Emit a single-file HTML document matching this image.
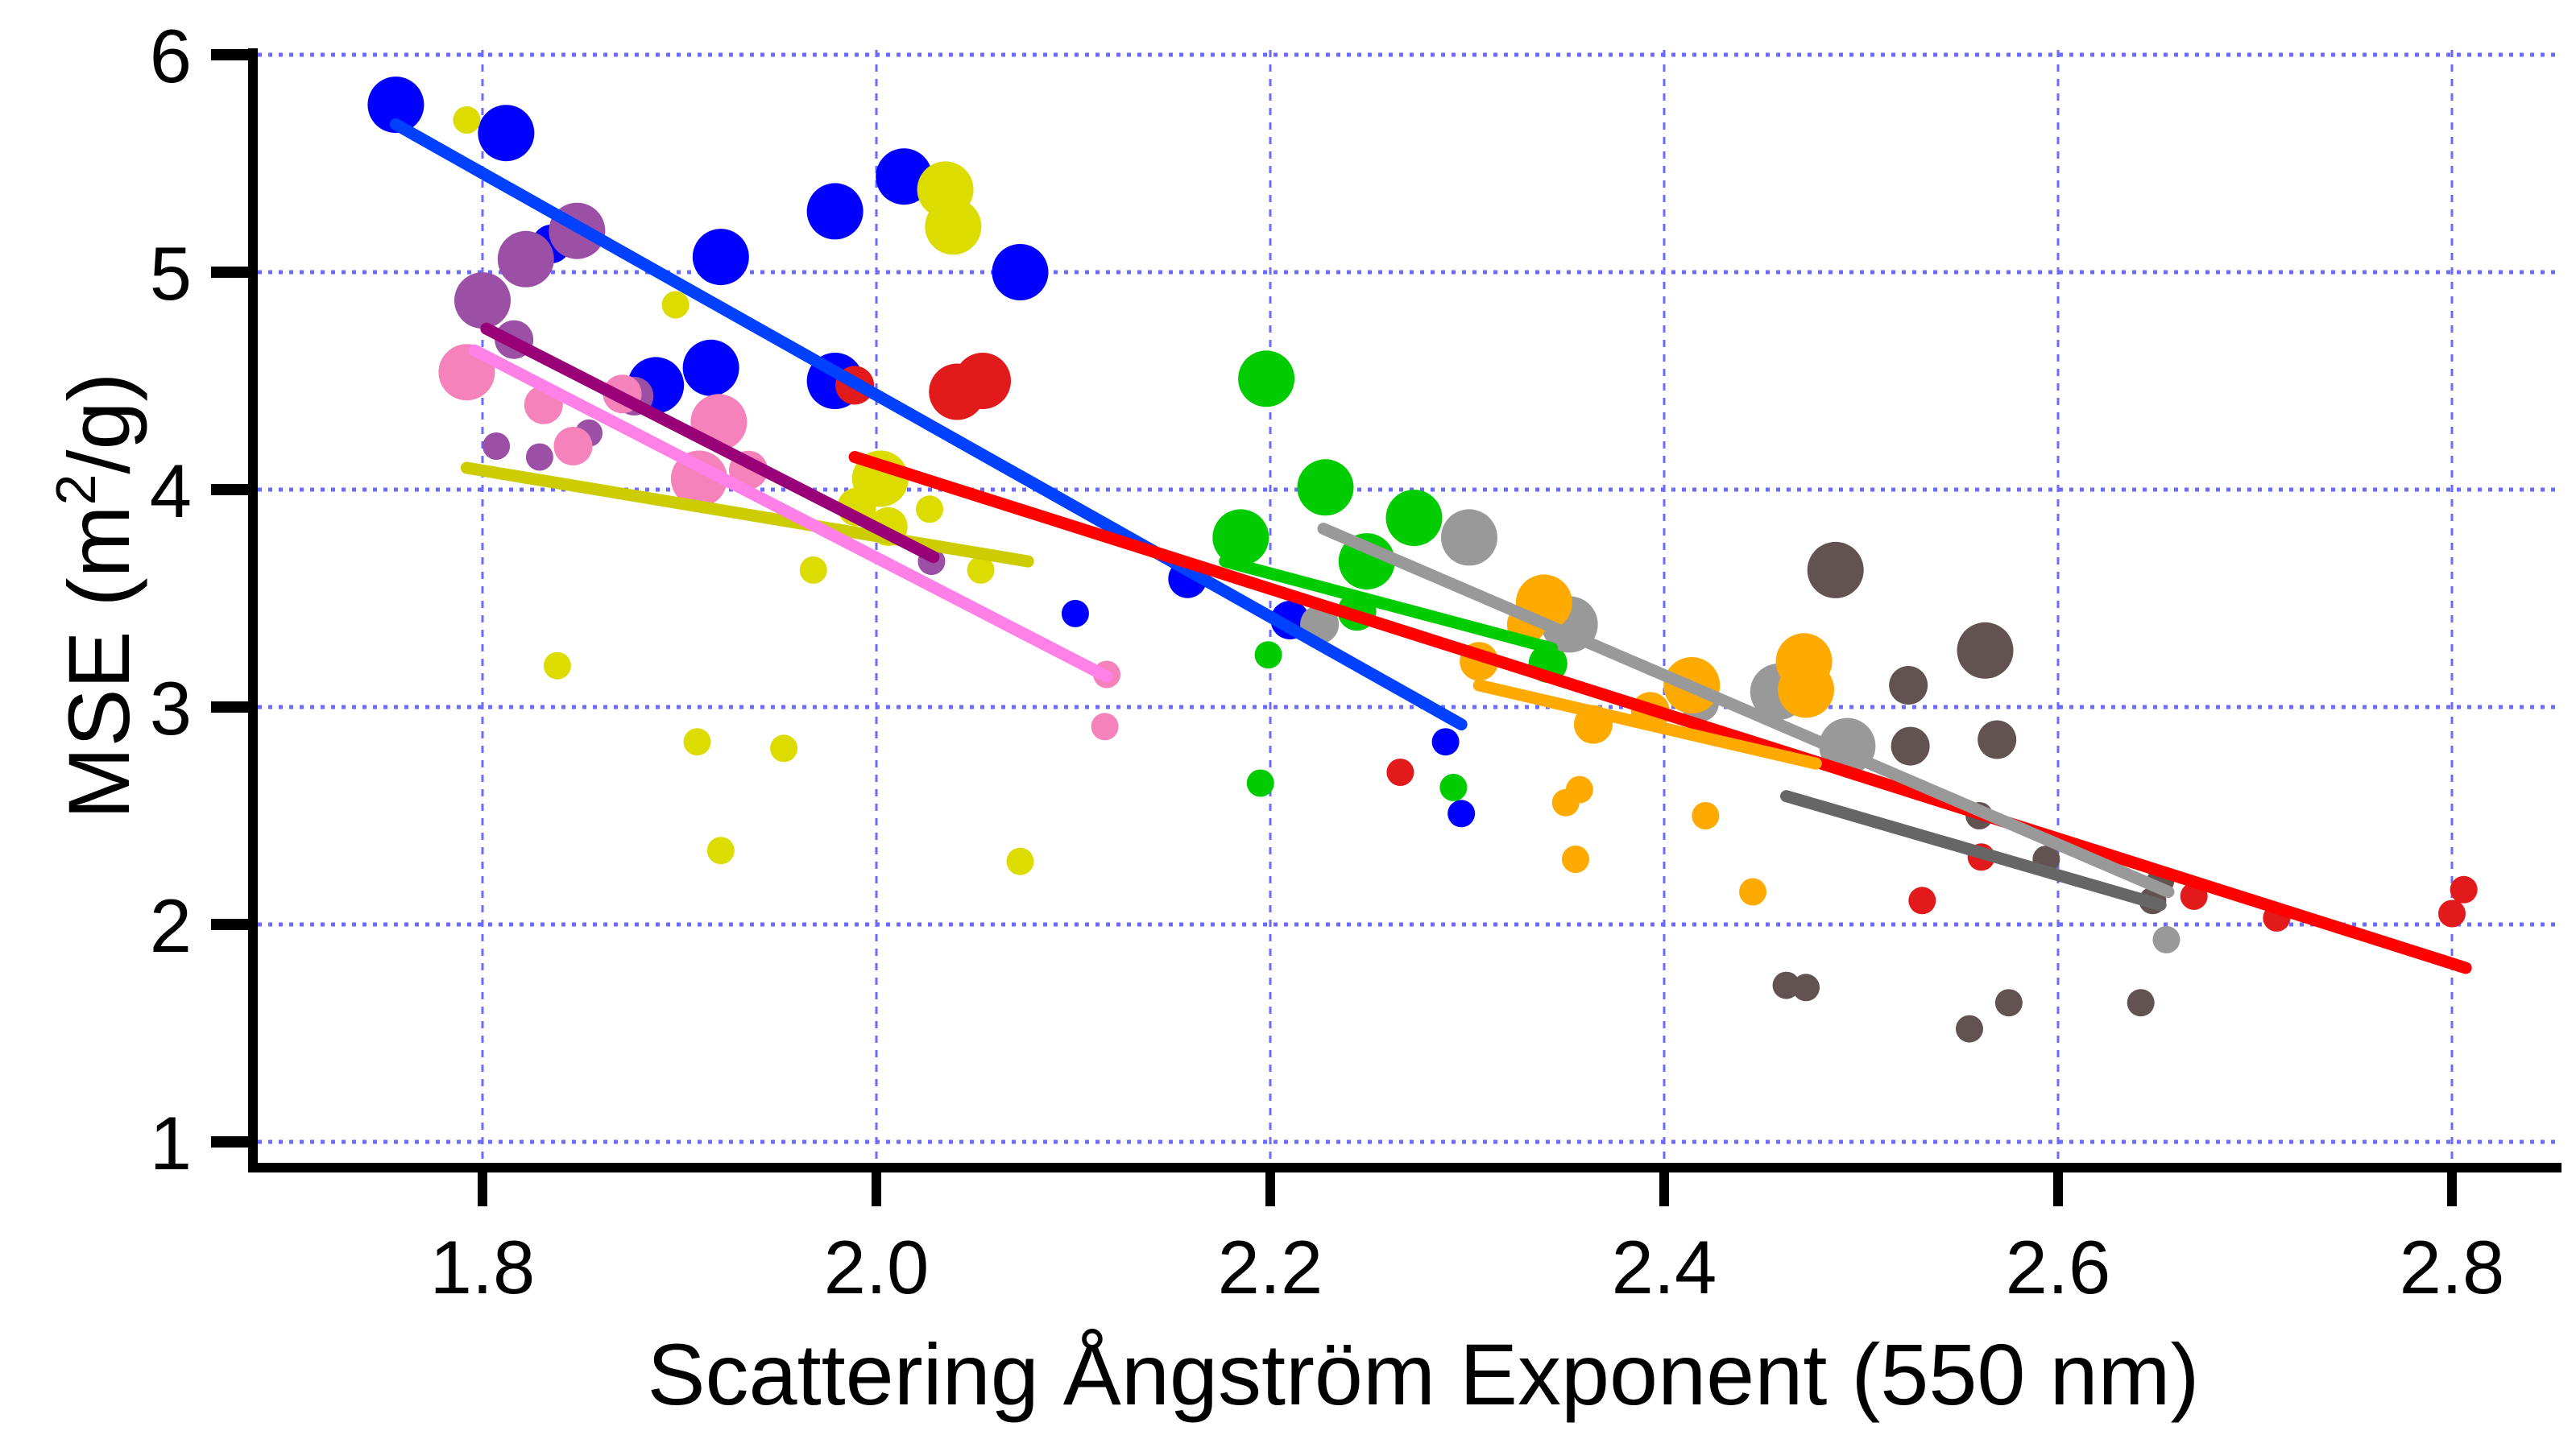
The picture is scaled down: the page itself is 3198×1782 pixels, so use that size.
<!DOCTYPE html>
<html><head><meta charset="utf-8">
<style>
html,body{margin:0;padding:0;background:#fff;}
svg{display:block;font-family:"Liberation Sans",Arial,sans-serif;}
</style></head>
<body>
<svg id="chart" width="3198" height="1782" viewBox="0 0 3198 1782" xmlns="http://www.w3.org/2000/svg">
<g id="grid"></g>
<g id="points"></g>
<g id="fits"></g>
<g id="axes"></g>
<text x="1767" y="1744" font-size="108" text-anchor="middle">Scattering Ångström Exponent (550 nm)</text>
<text transform="translate(160,740) rotate(-90)" font-size="108" text-anchor="middle">MSE (m<tspan dy="-42" font-size="70">2</tspan><tspan dy="42">/g)</tspan></text>
</svg>
<script>
const xTicks=[1.8,2.0,2.2,2.4,2.6,2.8];
const xTickLabels=["1.8","2.0","2.2","2.4","2.6","2.8"];
const yTicks=[1,2,3,4,5,6];
const yTickLabels=["1","2","3","4","5","6"];

const blueX=[1.756,1.812,1.835,1.921,1.979,2.014,2.073,1.888,1.916,1.979,2.158,2.101,2.289,2.297,2.21];
const blueY=[5.77,5.64,5.13,5.07,5.28,5.44,5.00,4.48,4.56,4.50,3.59,3.43,2.84,2.51,3.40];
const blueS=[3,3,2,3,3,3,3,3,3,3,2,1,1,1,2];
const blueFitX=[1.756,2.297]; const blueFitY=[5.68,2.92];

const yellowX=[1.792,2.035,2.039,1.898,2.002,2.006,2.027,2.053,1.968,1.838,1.909,1.953,1.921,2.073,1.99];
const yellowY=[5.70,5.38,5.21,4.85,4.05,3.83,3.91,3.63,3.63,3.19,2.84,2.81,2.34,2.29,3.92];
const yellowS=[1,3,3,1,3,2,1,1,1,1,1,1,1,1,2];
const yellowFitX=[1.792,2.077]; const yellowFitY=[4.10,3.67];

const purpleX=[1.848,1.822,1.80,1.816,1.807,1.829,1.854,1.877,1.933,2.028];
const purpleY=[5.19,5.06,4.87,4.69,4.20,4.15,4.26,4.43,4.08,3.67];
const purpleS=[3,3,3,2,1,1,1,2,1,1];
const purpleFitX=[1.802,2.029]; const purpleFitY=[4.74,3.69];

const pinkX=[1.792,1.831,1.846,1.871,1.920,1.91,1.935,2.117,2.116];
const pinkY=[4.54,4.39,4.20,4.44,4.31,4.05,4.09,3.15,2.91];
const pinkS=[3,2,2,2,3,3,2,1,1];
const pinkFitX=[1.796,2.117]; const pinkFitY=[4.64,3.14];

const redX=[1.989,2.041,2.054,2.266,2.531,2.561,2.669,2.711,2.80,2.806];
const redY=[4.48,4.45,4.50,2.70,2.11,2.31,2.13,2.03,2.05,2.16];
const redS=[2,3,3,1,1,1,1,1,1,1];
const redFitX=[1.989,2.807]; const redFitY=[4.15,1.80];

const greenX=[2.198,2.228,2.185,2.273,2.249,2.244,2.199,2.195,2.293,2.341];
const greenY=[4.51,4.01,3.78,3.87,3.67,3.44,3.24,2.65,2.63,3.20];
const greenS=[3,3,3,3,3,2,1,1,1,2];
const greenFitX=[2.177,2.343]; const greenFitY=[3.67,3.27];

const grayX=[2.301,2.352,2.225,2.458,2.493,2.418,2.655];
const grayY=[3.78,3.38,3.38,3.07,2.82,3.02,1.93];
const grayS=[3,3,2,3,3,2,1];
const grayFitX=[2.227,2.656]; const grayFitY=[3.82,2.15];

const orangeX=[2.339,2.33,2.306,2.364,2.414,2.393,2.471,2.472,2.357,2.35,2.421,2.355,2.445];
const orangeY=[3.48,3.38,3.21,2.92,3.10,2.98,3.21,3.08,2.62,2.56,2.50,2.30,2.15];
const orangeS=[3,2,2,2,3,2,3,3,1,1,1,1,1];
const orangeFitX=[2.306,2.477]; const orangeFitY=[3.10,2.74];

const brownX=[2.487,2.563,2.524,2.569,2.525,2.56,2.594,2.648,2.652,2.462,2.472,2.555,2.575,2.642];
const brownY=[3.63,3.26,3.10,2.85,2.82,2.50,2.30,2.11,2.20,1.72,1.71,1.52,1.64,1.64];
const brownS=[3,3,2,2,2,1,1,1,1,1,1,1,1,1];
const brownFitX=[2.462,2.652]; const brownFitY=[2.59,2.09];

const NS="http://www.w3.org/2000/svg";
function xs(v){return 599+(v-1.8)*2445;}
function ys(v){return 68+(6-v)*270;}
const sizeR=[0,17,24,35];
function mk(tag,attrs,parent){const e=document.createElementNS(NS,tag);for(const k in attrs)e.setAttribute(k,attrs[k]);parent.appendChild(e);return e;}

const grid=document.getElementById('grid');
xTicks.forEach(t=>{const l=mk('line',{x1:xs(t),x2:xs(t),y1:62,y2:1444,stroke:'#6b6bff','stroke-width':3,'stroke-dasharray':'9,9'},grid);

});
yTicks.forEach(t=>{const l=mk('line',{x1:320,x2:3178,y1:ys(t),y2:ys(t),stroke:'#6b6bff','stroke-width':5,'stroke-dasharray':'5,8'},grid);

});

const series=[
 ['blue',blueX,blueY,blueS,'#0000ff',blueFitX,blueFitY,'#0040ff'],
 ['yellow',yellowX,yellowY,yellowS,'#dcdc00',yellowFitX,yellowFitY,'#cccc00'],
 ['purple',purpleX,purpleY,purpleS,'#9b50a5',purpleFitX,purpleFitY,'#990077'],
 ['pink',pinkX,pinkY,pinkS,'#f582bb',pinkFitX,pinkFitY,'#ff80e6'],
 ['red',redX,redY,redS,'#e31a1c',redFitX,redFitY,'#ff0000'],
 ['green',greenX,greenY,greenS,'#00cc00',greenFitX,greenFitY,'#00cc00'],
 ['gray',grayX,grayY,grayS,'#999999',grayFitX,grayFitY,'#999999'],
 ['orange',orangeX,orangeY,orangeS,'#ffaa00',orangeFitX,orangeFitY,'#ffaa00'],
 ['brown',brownX,brownY,brownS,'#625252',brownFitX,brownFitY,'#666666']
];
const pts=document.getElementById('points'), fits=document.getElementById('fits');
series.forEach(s=>{
  const [name,X,Y,S,col,FX,FY,lcol]=s;
  const g=mk('g',{},pts);
  
  
  X.forEach((v,i)=>{const c=mk('circle',{cx:xs(v),cy:ys(Y[i]),r:sizeR[S[i]],fill:col},g);
    
    });
  const l=mk('line',{x1:xs(FX[0]),y1:ys(FY[0]),x2:xs(FX[1]),y2:ys(FY[1]),stroke:lcol,'stroke-width':15,'stroke-linecap':'round'},fits);
  
  
});

const axes=document.getElementById('axes');
const ya=mk('line',{x1:314,x2:314,y1:60,y2:1456,stroke:'#000','stroke-width':12},axes);


const xa=mk('line',{x1:308,x2:3180,y1:1450,y2:1450,stroke:'#000','stroke-width':12},axes);


xTicks.forEach((t,i)=>{
  const tk=mk('line',{x1:xs(t),x2:xs(t),y1:1450,y2:1498,stroke:'#000','stroke-width':12},axes);
  
  
  const tx=mk('text',{x:xs(t),y:1606,'font-size':94,'text-anchor':'middle'},axes);
  tx.textContent=xTickLabels[i];
  
  
});
yTicks.forEach((t,i)=>{
  const tk=mk('line',{x1:262,x2:314,y1:ys(t),y2:ys(t),stroke:'#000','stroke-width':14},axes);
  
  
  const tx=mk('text',{x:238,y:ys(t)+34,'font-size':94,'text-anchor':'end'},axes);
  tx.textContent=yTickLabels[i];
  
  
});
</script>
</body></html>
